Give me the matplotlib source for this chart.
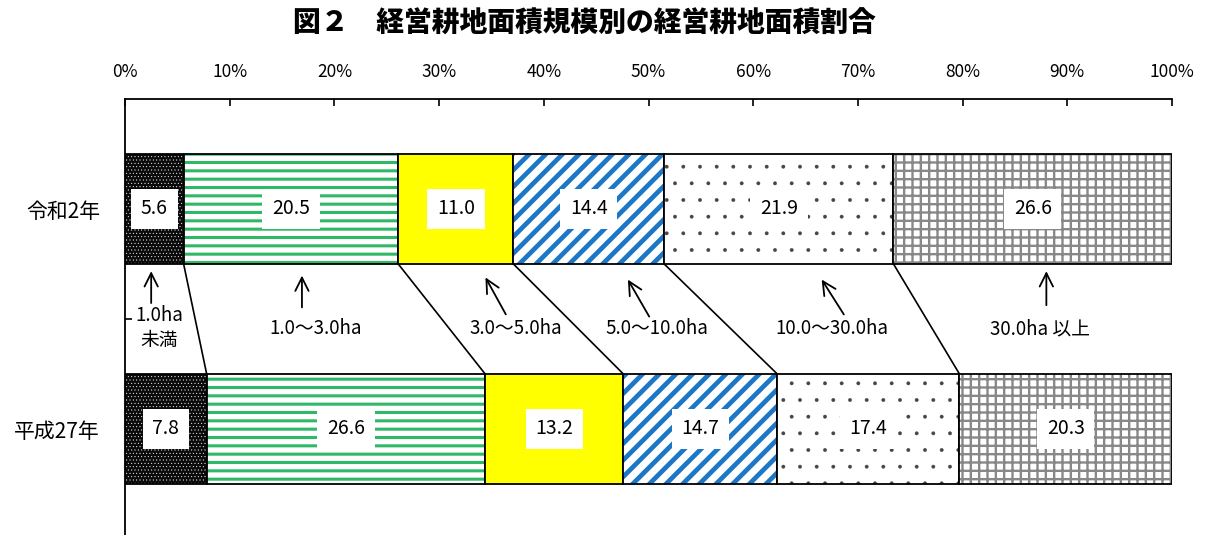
import matplotlib
matplotlib.use("Agg")
import matplotlib.pyplot as plt
import numpy as np

plt.rcParams['font.family'] = ['Noto Sans CJK JP', 'DejaVu Sans']

# 経営耕地面積規模別の割合（%）
years = ['令和2年', '平成27年']
size_classes = ['1.0ha\n未満', '1.0～3.0ha', '3.0～5.0ha', '5.0～10.0ha',
                '10.0～30.0ha', '30.0ha 以上']
share_r2 = [5.6, 20.5, 11.0, 14.4, 21.9, 26.6]
share_h27 = [7.8, 26.6, 13.2, 14.7, 17.4, 20.3]
xticks = [0, 10, 20, 30, 40, 50, 60, 70, 80, 90, 100]

# fill / hatch for each size class
styles = [
    dict(face='#0a0a0a', hatch='.....', hcolor='white', hlw=0.3),
    dict(face='white', hatch='--', hcolor='#2fb866', hlw=2.2),
    dict(face='#ffff00', hatch=None, hcolor='#ffff00', hlw=1.0),
    dict(face='white', hatch='//', hcolor='#1c78c6', hlw=3.4),
    dict(face='white', hatch='.', hcolor='#444444', hlw=0.3),
    dict(face='white', hatch='++', hcolor='#888888', hlw=1.7),
]

# arrow (tail, tip) and label position for each class, in data units
arrow_pos = [((2.5, 0.44), (2.5, 0.27)),
             ((16.9, 0.46), (16.9, 0.29)),
             ((36.5, 0.49), (34.3, 0.30)),
             ((50.2, 0.50), (47.9, 0.31)),
             ((68.8, 0.49), (66.4, 0.31)),
             ((88.0, 0.45), (88.0, 0.27))]
text_pos = [(3.3, 0.54), (18.2, 0.545), (37.3, 0.545), (50.8, 0.545),
            (67.5, 0.545), (87.4, 0.545)]

fig = plt.figure(figsize=(12.09, 5.35), dpi=100)
ax = fig.add_axes([125 / 1209, -4 / 535, 1047 / 1209, 440 / 535])

bar_h = 0.5
for yi, shares in enumerate([share_r2, share_h27]):
    left = 0.0
    for val, st in zip(shares, styles):
        with plt.rc_context({'hatch.linewidth': st['hlw']}):
            p = ax.barh(yi, val, left=left, height=bar_h, color=st['face'],
                        edgecolor=st['hcolor'], linewidth=0, hatch=st['hatch'])
            for r in p:
                if hasattr(r, 'set_hatch_linewidth'):
                    r.set_hatch_linewidth(st['hlw'])
        ax.barh(yi, val, left=left, height=bar_h, fill=False,
                edgecolor='black', linewidth=1.3)
        ax.text(left + val / 2, yi, f'{val:.1f}', ha='center', va='center',
                fontsize=14,
                bbox=dict(boxstyle='square,pad=0.5', fc='white', ec='none'))
        left += val

# lines joining the class boundaries of the two bars
cum_r2 = np.cumsum(share_r2)[:-1]
cum_h27 = np.cumsum(share_h27)[:-1]
for a, b in zip(cum_r2, cum_h27):
    ax.plot([a, b], [bar_h / 2, 1 - bar_h / 2], color='black', lw=1.2)

# class names with arrows pointing at the upper bar
for name, (tail, tip), (tx, ty) in zip(size_classes, arrow_pos, text_pos):
    ax.annotate('', xy=tip, xytext=tail,
                arrowprops=dict(arrowstyle='->', lw=1.3, color='black',
                                mutation_scale=24))
    ax.text(tx, ty, name, ha='center', va='center', fontsize=13.5,
            linespacing=1.25)

ax.set_xlim(0, 100)
ax.set_ylim(1.5, -0.5)
ax.xaxis.tick_top()
ax.set_xticks(xticks)
ax.set_xticklabels([f'{t}%' for t in xticks], fontsize=12.5)
ax.tick_params(axis='x', direction='in', length=5, width=1.2, pad=13)
ax.set_yticks([0, 1])
ax.set_yticklabels(years, fontsize=15)
ax.tick_params(axis='y', which='major', length=0, pad=18)
ax.set_yticks([0.5], minor=True)
ax.tick_params(axis='y', which='minor', direction='in', length=5, width=1.2)
for s in ['right', 'bottom']:
    ax.spines[s].set_visible(False)
for s in ['top', 'left']:
    ax.spines[s].set_linewidth(1.3)

fig.text(0.483, 0.957, '図２　経営耕地面積規模別の経営耕地面積割合',
         ha='center', va='center', fontsize=20, fontweight='heavy')

fig.savefig('out.png', dpi=100)
